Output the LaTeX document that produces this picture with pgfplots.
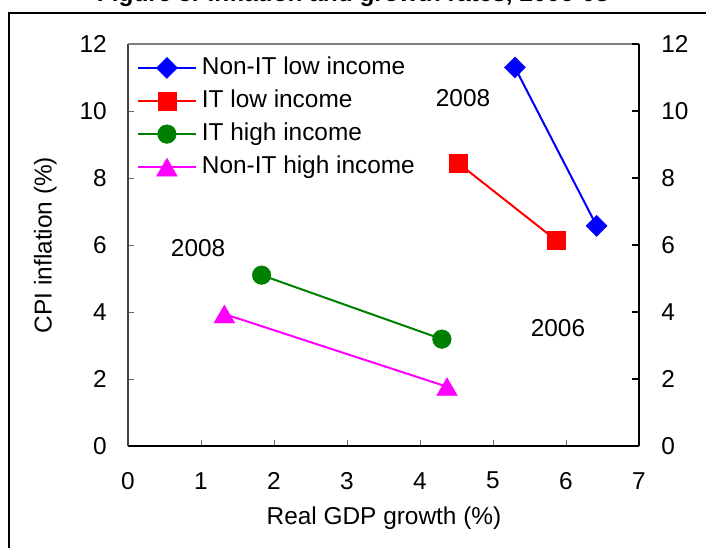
\documentclass[border=0pt]{standalone}
\usepackage{pgfplots}
\pgfplotsset{compat=1.18}
\usepackage{fontspec}
\setmainfont{Liberation Sans}
\definecolor{ngreen}{RGB}{0,128,0}
\definecolor{nmag}{RGB}{255,0,255}
\definecolor{nblue}{RGB}{0,0,255}
\definecolor{nred}{RGB}{255,0,0}
\begin{document}
\fontsize{18.3}{22}\selectfont
\begin{tikzpicture}
\useasboundingbox (0,0) rectangle (529.5pt,-411pt);
\clip (0,0) rectangle (529.5pt,-411pt);
\draw[line width=1.5pt] (6.4pt,-700pt) -- (6.4pt,-9.4pt) -- (700pt,-9.4pt);
\node[anchor=base, font=\bfseries, inner sep=0pt] at (264.75pt,-1.5pt) {Figure 5. Inflation and growth rates, 2006-08};

\begin{axis}[
 at={(96pt,-334.5pt)}, anchor=south west,
 scale only axis, width=383.25pt, height=301.5pt,
 xmin=0,xmax=7,ymin=0,ymax=12,
 xtick={0,...,7}, ytick={0,2,...,12},
 axis x line*=bottom, axis y line*=left,
 x axis line style={black, line width=1.5pt, -},
 y axis line style={black!75, line width=1.3pt, -},
 tick align=inside, major tick length=4.5pt,
 tick style={black!60, line width=0.7pt},
 /pgf/number format/assume math mode=true,
 xticklabel style={anchor=center, inner sep=0pt, yshift=-26pt},
 yticklabel style={anchor=east, inner sep=0pt, xshift=-15.75pt},
 xlabel={Real GDP growth (\%)},
 ylabel={CPI inflation (\%)},
 every axis x label/.style={at={(axis description cs:0.501,-0.179)}, anchor=center},
 every axis y label/.style={at={(axis description cs:-0.162,0.5)}, anchor=center, rotate=90},
 clip=false,
 legend style={at={(rel axis cs:0.0176,0.975)}, anchor=north west, draw=none, fill=white,
   inner sep=0pt, row sep=4.3pt, column sep=2pt,
   nodes={inner sep=2pt, text height=12.8pt, text depth=3.7pt, anchor=west}},
 legend cell align=left,
 legend image code/.code={\draw[mark repeat=2,mark phase=2,#1] plot coordinates {(0pt,0pt) (21.5pt,0pt) (43pt,0pt)};},
]
\draw[black!50, line width=1.3pt] (rel axis cs:0,1) -- (rel axis cs:1,1);
\addplot[nblue, line width=1.5pt, mark=square*, mark size=5.6pt, mark options={solid, rotate=45, line width=0.3pt}] coordinates {(5.3,11.3) (6.42,6.57)};
\addlegendentry{Non-IT low income}
\addplot[nred, line width=1.5pt, mark=square*, mark size=6.75pt, mark options={solid, line width=0.3pt}] coordinates {(4.52,8.45) (5.86,6.15)};
\addlegendentry{IT low income}
\addplot[ngreen, line width=1.5pt, mark=*, mark size=7pt, mark options={solid, line width=0.3pt}] coordinates {(1.83,5.1) (4.30,3.19)};
\addlegendentry{IT high income}
\addplot[nmag, line width=1.5pt, mark=triangle*, mark size=9pt, mark options={solid, line width=0.3pt, yshift=-2.25pt}] coordinates {(1.32,3.94) (4.37,1.77)};
\addlegendentry{Non-IT high income}
\node at (axis cs:4.59,10.39) {2008};
\node at (axis cs:0.96,5.9) {2008};
\node at (axis cs:5.89,3.52) {2006};
\end{axis}

\begin{axis}[
 at={(96pt,-334.5pt)}, anchor=south west,
 scale only axis, width=383.25pt, height=301.5pt,
 xmin=0,xmax=7,ymin=0,ymax=12,
 ytick={0,2,...,12},
 axis x line=none, axis y line*=right,
 y axis line style={black, line width=1.5pt, -},
 tick align=inside, major tick length=5pt,
 tick style={black, line width=1pt},
 /pgf/number format/assume math mode=true,
 yticklabel style={anchor=west, inner sep=0pt, xshift=16.5pt},
]
\end{axis}
\end{tikzpicture}
\end{document}
